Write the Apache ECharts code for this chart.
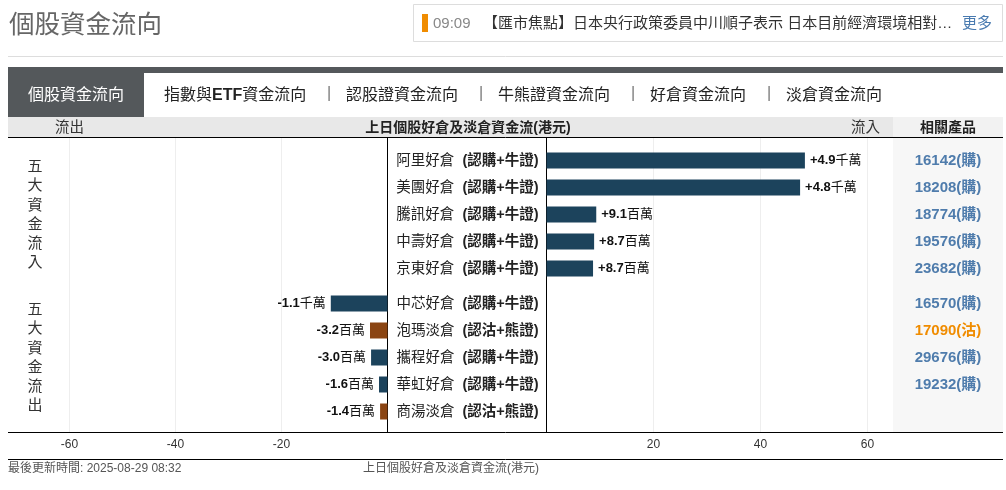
<!DOCTYPE html>
<html>
<head>
<meta charset="utf-8">
<style>
  html, body { margin: 0; padding: 0; background: #fff; }
  #chart { width: 1006px; height: 490px; }
</style>
<script src="https://cdn.jsdelivr.net/npm/echarts@6/dist/echarts.min.js"></script>
</head>
<body>
<div id="chart"></div>
<script>
// 資金流入 / 流出，單位：百萬港元（柱長讀自圖）
const inflowNames = ['阿里好倉', '美團好倉', '騰訊好倉', '中壽好倉', '京東好倉'];
const inflowValues = [48.3, 47.4, 9.3, 8.9, 8.7];
const inflowLabels = ['+4.9千萬', '+4.8千萬', '+9.1百萬', '+8.7百萬', '+8.7百萬'];
const inflowProducts = ['16142(購)', '18208(購)', '18774(購)', '19576(購)', '23682(購)'];

const outflowNames = ['中芯好倉', '泡瑪淡倉', '攜程好倉', '華虹好倉', '商湯淡倉'];
const outflowValues = [-10.7, -3.3, -3.1, -1.6, -1.4];
const outflowLabels = ['-1.1千萬', '-3.2百萬', '-3.0百萬', '-1.6百萬', '-1.4百萬'];
const outflowProducts = ['16570(購)', '17090(沽)', '29676(購)', '19232(購)', ''];

const tabs = ['{c|指數與}{e|ETF}{c|資金流向}', '{c|認股證資金流向}', '{c|牛熊證資金流向}', '{c|好倉資金流向}', '{c|淡倉資金流向}'];
const tabX = [164, 346, 498, 650, 786];
const sepX = [327, 479, 631, 767];

const FONT = '"Liberation Sans", "Noto Sans CJK TC", sans-serif';
const BULL = '#1c435c', BEAR = '#8b4513';

const barColor = (name) => name.includes('淡') ? BEAR : BULL;
const suffix = (name) => name.includes('淡') ? '(認沽+熊證)' : '(認購+牛證)';

const nameLabel = (name) => `{a|${name} }{b|${suffix(name)}}`;
const nameRich = {
  a: { fontFamily: FONT, fontSize: 14.5, color: '#222' },
  b: { fontFamily: FONT, fontSize: 14.5, color: '#222', fontWeight: 'bold', padding: [0, 0, 0, 4] }
};
const valueRich = {
  n: { fontFamily: FONT, fontSize: 13, color: '#111', fontWeight: 'bold' },
  u: { fontFamily: FONT, fontSize: 13, color: '#111' }
};
const valueLabel = (text) => text.replace(/^([-+][\d.]+)(.*)$/, '{n|$1}{u|$2}');

const txt = (text, x, y, size, fill, extra) => ({
  type: 'text', x, y, silent: true,
  style: Object.assign({
    text, fill, fontSize: size, fontFamily: FONT, textVerticalAlign: 'middle'
  }, extra || {})
});
const rect = (x, y, width, height, fill, stroke) => ({
  type: 'rect', silent: true, shape: { x, y, width, height },
  style: stroke ? { fill, stroke, lineWidth: 1 } : { fill }
});
const hline = (x1, x2, y, stroke) => ({
  type: 'line', silent: true, z: 5,
  shape: { x1, y1: y, x2, y2: y }, style: { stroke, lineWidth: 1 }
});

const chrome = [
  rect(8, 67, 995, 6, '#54585b'),
  rect(8, 67, 136, 50, '#54585b'),
  rect(8, 117, 885, 20, '#e8e8e8'),
  rect(893, 117, 110, 20, '#f2f2f2'),
  rect(893, 137, 110, 295, '#f7f7f7'),
  rect(413.5, 4.5, 589, 37, '#fff', '#ddd'),
  rect(422, 14, 6, 18, '#f08c00'),
  hline(8, 1003, 56.5, '#ddd'),
  hline(8, 1003, 137.5, '#000'),
  hline(8, 1003, 432.5, '#000'),
  hline(8, 1003, 459.5, '#000'),
  txt('個股資金流向', 9, 26, 25.5, '#666'),
  txt('09:09', 433, 24, 15, '#888'),
  txt('【匯市焦點】日本央行政策委員中川順子表示 日本目前經濟環境相對…', 483, 24, 15, '#333'),
  txt('更多', 962, 24, 15, '#4a7bb0'),
  txt('個股資金流向', 28, 96, 16, '#fff'),
  txt('流出', 55, 128, 14.5, '#333'),
  txt('上日個股好倉及淡倉資金流(港元)', 468, 128, 14, '#222', { textAlign: 'center', fontWeight: 'bold' }),
  txt('流入', 851, 128, 14.5, '#333'),
  txt('相關產品', 948, 128, 14, '#222', { textAlign: 'center', fontWeight: 'bold' }),
  txt('五\n大\n資\n金\n流\n入', 35, 215, 15, '#333', { textAlign: 'center', lineHeight: 19.2 }),
  txt('五\n大\n資\n金\n流\n出', 35, 358, 15, '#333', { textAlign: 'center', lineHeight: 19.2 }),
  txt('最後更新時間: 2025-08-29 08:32', 8, 469, 12, '#555'),
  txt('上日個股好倉及淡倉資金流(港元)', 363, 469, 12, '#555')
];
const tabRich = {
  c: { fontFamily: FONT, fontSize: 16, fill: '#222', color: '#222' },
  e: { fontFamily: FONT, fontSize: 16, fill: '#222', color: '#222', fontWeight: 'bold' }
};
tabs.forEach((t, i) => chrome.push(txt(t, tabX[i], 96, 16, '#222', { rich: tabRich })));
sepX.forEach((x) => chrome.push(txt('|', x, 94, 16, '#777')));

const hiddenX = (gridIndex, min, max) => ({ gridIndex, type: 'value', min, max, show: false });
const backdropX = (gridIndex, min, max) => ({
  gridIndex, type: 'value', min, max, interval: 20,
  axisLine: { show: false }, axisTick: { show: false },
  splitLine: { lineStyle: { color: '#eee' } },
  axisLabel: {
    fontFamily: FONT, fontSize: 12, color: '#333', margin: 6, showMinLabel: true, showMaxLabel: true,
    formatter: (v) => v === 0 ? '' : String(v)
  }
});
const backdropY = (gridIndex, position) => ({
  gridIndex, type: 'category', position, data: [''],
  axisLine: { show: true, lineStyle: { color: '#000' } },
  axisTick: { show: false }, axisLabel: { show: false }, splitLine: { show: false }
});
const nameAxis = (gridIndex, position, data, margin, align) => ({
  gridIndex, type: 'category', position, inverse: true, data,
  axisLine: { show: false }, axisTick: { show: false },
  axisLabel: { margin, align, formatter: nameLabel, rich: nameRich, interval: 0 }
});
const productAxis = (gridIndex, data, offset) => ({
  gridIndex, type: 'category', position: 'right', inverse: true, data, offset,
  axisLine: { show: false }, axisTick: { show: false },
  axisLabel: {
    margin: 0, align: 'center', interval: 0, fontFamily: FONT, fontSize: 15, fontWeight: 'bold',
    color: (v) => v && v.includes('沽') ? '#f08c00' : '#4f7cac'
  }
});
const barSeries = (xAxisIndex, yAxisIndex, names, values, labels, position) => ({
  type: 'bar', xAxisIndex, yAxisIndex, barWidth: 16, silent: true,
  data: values.map((value, i) => ({ value, itemStyle: { color: barColor(names[i]) } })),
  label: {
    show: true, position, distance: 5, rich: valueRich,
    formatter: (p) => valueLabel(labels[p.dataIndex])
  }
});

const chart = echarts.init(document.getElementById('chart'));
chart.setOption({
  animation: false,
  graphic: { elements: chrome },
  grid: [
    { left: 69.5, width: 318, top: 137.5, height: 295 },
    { left: 546.5, width: 321, top: 137.5, height: 295 },
    { left: 69.5, width: 318, top: 290, height: 135 },
    { left: 546.5, width: 321, top: 147, height: 135 }
  ],
  xAxis: [
    backdropX(0, -60, 0),
    backdropX(1, 0, 60),
    hiddenX(2, -60, 0),
    hiddenX(3, 0, 60)
  ],
  yAxis: [
    backdropY(0, 'right'),
    backdropY(1, 'left'),
    nameAxis(2, 'right', outflowNames, 9, 'left'),
    nameAxis(3, 'left', inflowNames, 8, 'right'),
    productAxis(2, outflowProducts, 560.5),
    productAxis(3, inflowProducts, 80.5)
  ],
  series: [
    barSeries(2, 2, outflowNames, outflowValues, outflowLabels, 'left'),
    barSeries(3, 3, inflowNames, inflowValues, inflowLabels, 'right')
  ]
});
</script>
</body>
</html>
